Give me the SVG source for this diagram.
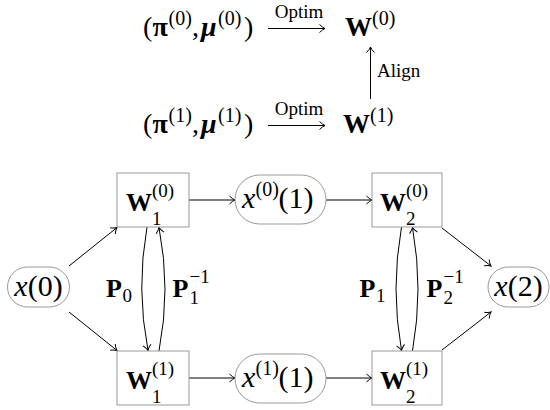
<svg xmlns="http://www.w3.org/2000/svg" width="550" height="410" viewBox="0 0 550 410">
<style>
text{font-family:"Liberation Serif","Times New Roman",serif;fill:#000}
.m{font-size:28px}
.n{font-size:30px}
.w{font-size:26px;font-weight:bold}
.s{font-size:20px;font-weight:normal;font-style:normal}
.ss{font-size:19px;font-weight:normal;font-style:normal}
.b{font-weight:bold}
.bi{font-weight:bold;font-style:italic}
.i{font-style:italic}
.lab{font-size:19px}
.box{fill:#fff;stroke:#999;stroke-width:1}
.ln{fill:none;stroke:#000;stroke-width:1}
</style>
<defs>
<marker id="to" viewBox="-7 -5 8 10" refX="0" refY="0" markerWidth="8" markerHeight="10" markerUnits="userSpaceOnUse" orient="auto">
<path d="M-5.5,-4 Q-2,-0.6 0,0 Q-2,0.6 -5.5,4" fill="none" stroke="#000" stroke-width="1"/>
</marker>
</defs>
<rect width="550" height="410" fill="#fff"/>

<g id="top-row0">
<text class="m" y="36"><tspan x="143">(</tspan><tspan x="152.5" class="b">π</tspan><tspan x="168.5" y="25" class="s">(0)</tspan><tspan x="192" y="36">,</tspan><tspan x="201" class="bi">μ</tspan><tspan x="218" y="25" class="s">(0)</tspan><tspan x="244" y="36">)</tspan></text>
<text class="m b" x="345" y="36" style="font-size:27px">W<tspan x="372" y="25" class="s">(0)</tspan></text>
</g>
<g id="top-row1">
<text class="m" y="133"><tspan x="143">(</tspan><tspan x="152.5" class="b">π</tspan><tspan x="168.5" y="122" class="s">(1)</tspan><tspan x="192" y="133">,</tspan><tspan x="201" class="bi">μ</tspan><tspan x="218" y="122" class="s">(1)</tspan><tspan x="244" y="133">)</tspan></text>
<text class="m b" x="343" y="133" style="font-size:27px">W<tspan x="370" y="122" class="s">(1)</tspan></text>
</g>
<g id="top-connectors">
<line class="ln" x1="268" y1="28.5" x2="325" y2="28.5" marker-end="url(#to)"/>
<text class="lab" x="299" y="18" text-anchor="middle">Optim</text>
<line class="ln" x1="268" y1="125.5" x2="325" y2="125.5" marker-end="url(#to)"/>
<text class="lab" x="299" y="115" text-anchor="middle">Optim</text>
<line class="ln" x1="370.5" y1="99" x2="370.5" y2="47" marker-end="url(#to)"/>
<text class="lab" x="377" y="77">Align</text>
</g>

<g id="connectors">
<line class="ln" x1="69" y1="266" x2="117" y2="227.5" marker-end="url(#to)"/>
<line class="ln" x1="69" y1="312" x2="117" y2="350.5" marker-end="url(#to)"/>
<line class="ln" x1="189" y1="200" x2="235" y2="200" marker-end="url(#to)"/>
<line class="ln" x1="189" y1="378" x2="235" y2="378" marker-end="url(#to)"/>
<line class="ln" x1="326" y1="200" x2="372" y2="200" marker-end="url(#to)"/>
<line class="ln" x1="326" y1="378" x2="372" y2="378" marker-end="url(#to)"/>
<line class="ln" x1="442" y1="228" x2="491" y2="266" marker-end="url(#to)"/>
<line class="ln" x1="442" y1="350" x2="491" y2="312" marker-end="url(#to)"/>
<path class="ln" d="M147,227 Q136,289 148,350.5" marker-end="url(#to)"/>
<path class="ln" d="M159,351 Q171,289 159,227.5" marker-end="url(#to)"/>
<path class="ln" d="M401.5,227 Q390.5,289 401.5,350.5" marker-end="url(#to)"/>
<path class="ln" d="M412.5,351 Q423.5,289 412.5,227.5" marker-end="url(#to)"/>
<text class="w" x="106" y="297">P<tspan x="122.5" y="302" class="ss">0</tspan></text>
<text class="w" x="172.5" y="297">P<tspan x="189.5" y="283" class="ss">−1</tspan><tspan x="189.5" y="304" class="ss">1</tspan></text>
<text class="w" x="359.5" y="297">P<tspan x="376" y="302" class="ss">1</tspan></text>
<text class="w" x="426.5" y="297">P<tspan x="443.5" y="283" class="ss">−1</tspan><tspan x="443.5" y="304" class="ss">2</tspan></text>
</g>

<g id="x0">
<rect class="box" x="7.5" y="267" width="62" height="40" rx="20"/>
<text class="n" x="38.5" y="296" text-anchor="middle"><tspan class="i">x</tspan>(0)</text>
</g>
<g id="W1_0">
<rect class="box" x="117" y="173" width="72" height="54"/>
<text class="w" x="126" y="210.5">W<tspan x="152" y="197" class="ss">(0)</tspan><tspan x="152" y="224.5" class="ss">1</tspan></text>
</g>
<g id="W1_1">
<rect class="box" x="117" y="351" width="72" height="54"/>
<text class="w" x="126" y="388.5">W<tspan x="152" y="375" class="ss">(1)</tspan><tspan x="152" y="402.5" class="ss">1</tspan></text>
</g>
<g id="x0_1">
<rect class="box" x="235" y="175" width="91" height="49" rx="24.5"/>
<text class="n" x="242" y="208"><tspan class="i">x</tspan><tspan x="255.5" y="196" class="s">(0)</tspan><tspan x="278.5" y="208">(1)</tspan></text>
</g>
<g id="x1_1">
<rect class="box" x="235" y="354" width="91" height="49" rx="24.5"/>
<text class="n" x="242" y="387"><tspan class="i">x</tspan><tspan x="255.5" y="375" class="s">(1)</tspan><tspan x="278.5" y="387">(1)</tspan></text>
</g>
<g id="W2_0">
<rect class="box" x="372" y="173" width="70" height="54"/>
<text class="w" x="380" y="210.5">W<tspan x="406" y="197" class="ss">(0)</tspan><tspan x="406" y="224.5" class="ss">2</tspan></text>
</g>
<g id="W2_1">
<rect class="box" x="372" y="351" width="70" height="54"/>
<text class="w" x="380" y="388.5">W<tspan x="406" y="375" class="ss">(1)</tspan><tspan x="406" y="402.5" class="ss">2</tspan></text>
</g>
<g id="x2">
<rect class="box" x="488" y="267" width="61" height="40" rx="20"/>
<text class="n" x="518.5" y="296" text-anchor="middle"><tspan class="i">x</tspan>(2)</text>
</g>
</svg>
